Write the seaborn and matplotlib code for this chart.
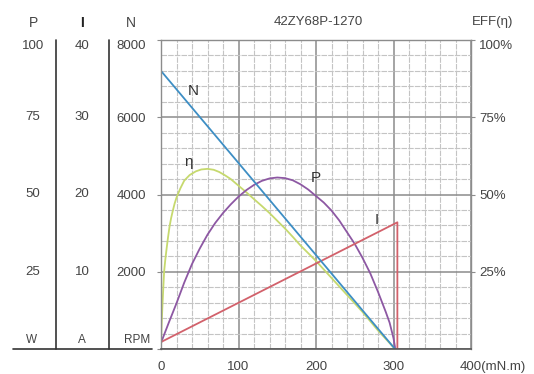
import matplotlib.pyplot as plt
import matplotlib.transforms as mtransforms
from matplotlib.lines import Line2D
from matplotlib.ticker import MultipleLocator
import seaborn as sns

# values (torque in mN.m)
torque_n = [0, 302]
speed_rpm = [7200, 0]

torque_i = [0, 305, 305]
current_a = [0.9, 16.4, 0]

torque_p = [0, 10, 20, 30, 40, 50, 60, 70, 80, 90, 100, 110, 120, 130, 140, 150, 160,
            170, 180, 190, 200, 210, 220, 230, 240, 250, 260, 270, 280, 290, 295, 300, 302]
power_w = [2, 8.5, 14.8, 21.5, 27.5, 32.5, 37, 40.8, 44, 46.8, 49.3, 51.4, 53.1, 54.4, 55.2, 55.5, 55.3,
           54.6, 53.3, 51.6, 49.5, 47.4, 44.8, 41.6, 37.8, 34, 29.5, 24.5, 18.5, 12, 8.5, 3.5, 0.5]

torque_eff = [0, 1, 2, 3, 4, 5.5, 7, 9, 11, 13, 15, 17.5, 20, 25, 30, 37, 45, 52, 60, 68, 75, 82,
              90, 97, 105, 112, 120, 130, 140, 150, 160, 170, 180, 190, 200, 220, 240, 260, 280, 302]
eff_pct = [2, 9, 14.8, 20, 25, 28.8, 32, 36, 39.6, 42.3, 44.5, 47, 49, 52, 54.5, 56.3, 57.5, 58.1, 58.3, 58, 57.3, 56.3,
           55, 53.5, 51.8, 50.3, 48.5, 46.3, 44, 41.5, 39, 36.3, 33.5, 31, 28.5, 23, 17.5, 12, 6, 0]

p_labels = ["100", "75", "50", "25"]
i_labels = ["40", "30", "20", "10"]
n_ticks = [8000, 6000, 4000, 2000]

# everything is drawn on the rpm scale: 100 W = 40 A = 100 % = 8000 rpm
P_SCALE = 80
I_SCALE = 200
EFF_SCALE = 80

sns.set_style("white")
plt.rcParams['font.family'] = ['Liberation Sans', 'DejaVu Sans']

W, H = 534, 374
fig = plt.figure(figsize=(W / 100, H / 100), dpi=100)
ax = fig.add_axes([161 / W, 1 - 349 / H, 310 / W, 309 / H])

txt = '#444444'
fs = 9.5

sns.lineplot(x=torque_eff, y=[v * EFF_SCALE for v in eff_pct], ax=ax,
             color='#c6d96e', lw=1.3, estimator=None, sort=False)
sns.lineplot(x=torque_p, y=[v * P_SCALE for v in power_w], ax=ax,
             color='#8d58a3', lw=1.3, estimator=None, sort=False)
sns.lineplot(x=torque_i, y=[v * I_SCALE for v in current_a], ax=ax,
             color='#d2616b', lw=1.3, estimator=None, sort=False)
sns.lineplot(x=torque_n, y=speed_rpm, ax=ax,
             color='#3d8ec4', lw=1.3, estimator=None, sort=False)

ax.set_xlim(0, 400)
ax.set_ylim(0, 8000)
ax.xaxis.set_major_locator(MultipleLocator(100))
ax.xaxis.set_minor_locator(MultipleLocator(20))
ax.yaxis.set_major_locator(MultipleLocator(2000))
ax.yaxis.set_minor_locator(MultipleLocator(400))
ax.set_axisbelow(True)
ax.grid(which='minor', color='#c4c4c4', lw=0.8, ls=(0, (5, 1)))
ax.grid(which='major', color='#8c8c8c', lw=1.1)
ax.set_xlabel('')
ax.set_ylabel('')

ax.set_xticks([0, 100, 200, 300, 400])
ax.set_xticklabels(['0', '100', '200', '300', ''])
ax.set_yticks([0, 2000, 4000, 6000, 8000])
ax.set_yticklabels(['', '2000', '4000', '6000', '8000'])
ax.get_yticklabels()[-1].set_va('top')
ax.tick_params(axis='both', which='major', direction='out', length=3,
               color='#8c8c8c', labelsize=fs, labelcolor=txt)
ax.tick_params(axis='x', pad=6)
ax.tick_params(axis='y', pad=8)
ax.tick_params(which='minor', length=0)
for side in ['top', 'right', 'left']:
    ax.spines[side].set_color('#8c8c8c')
    ax.spines[side].set_linewidth(1.0)
ax.spines['bottom'].set_color('#555555')
ax.spines['bottom'].set_linewidth(1.2)

ax.annotate('400(mN.m)', xy=(400, 0), xytext=(-8, -8.5), textcoords='offset points',
            ha='left', va='top', fontsize=fs, color=txt)

# efficiency scale on the right
ax2 = ax.twinx()
ax2.set_ylim(0, 100)
ax2.set_yticks([25, 50, 75, 100])
ax2.set_yticklabels(['25%', '50%', '75%', '100%'])
ax2.get_yticklabels()[-1].set_va('top')
ax2.tick_params(axis='y', direction='out', length=3, color='#8c8c8c',
                labelsize=fs, labelcolor=txt, pad=3)
for s in ax2.spines.values():
    s.set_visible(False)

# curve names
for name, tx, ty in [('N', 41, 6680), ('η', 36, 4840), ('P', 200, 4430), ('I', 279, 3340)]:
    ax.text(tx, ty, name, fontsize=11, color='#333333', ha='center', va='center')

# left P / I columns
tr = mtransforms.blended_transform_factory(fig.transFigure, ax.transData)
for k, yv in enumerate(n_ticks):
    va = 'top' if k == 0 else 'center'
    fig.text(33 / W, yv, p_labels[k], transform=tr, ha='center', va=va, fontsize=fs, color=txt)
    fig.text(82 / W, yv, i_labels[k], transform=tr, ha='center', va=va, fontsize=fs, color=txt)

for xp in [56, 109]:
    fig.add_artist(Line2D([xp / W, xp / W], [1 - 40 / H, 1 - 349 / H],
                          transform=fig.transFigure, color='#333333', lw=1.2))
fig.add_artist(Line2D([13 / W, 152 / W], [1 - 349 / H, 1 - 349 / H],
                      transform=fig.transFigure, color='#333333', lw=1.2))

for lab, xp in [('P', 33), ('I', 82), ('N', 131)]:
    fig.text(xp / W, 1 - 23 / H, lab, ha='center', va='center', fontsize=10,
             color='#222222' if lab == 'I' else txt,
             fontweight='bold' if lab == 'I' else 'normal')
for lab, xp in [('W', 32), ('A', 82), ('RPM', 137)]:
    fig.text(xp / W, 1 - 340 / H, lab, ha='center', va='center', fontsize=8.5, color=txt)

fig.text(318 / W, 1 - 22 / H, '42ZY68P-1270', ha='center', va='center', fontsize=fs, color=txt)
fig.text(493 / W, 1 - 22 / H, 'EFF(η)', ha='center', va='center', fontsize=fs, color=txt)

fig.savefig('out.png', dpi=100)
